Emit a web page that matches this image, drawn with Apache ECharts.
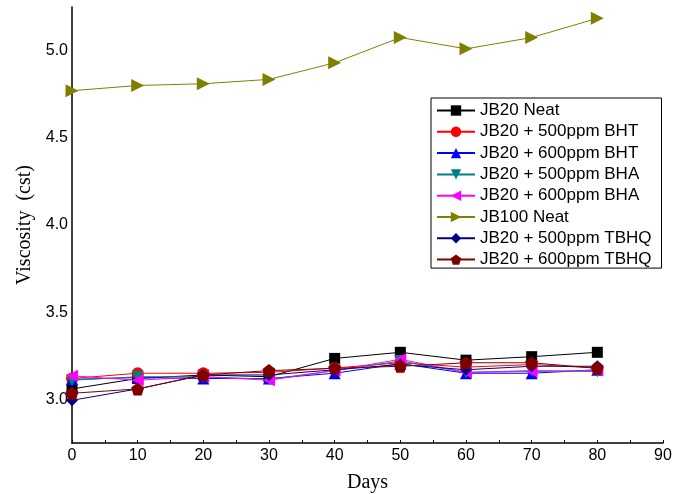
<!DOCTYPE html>
<html>
<head>
<meta charset="utf-8">
<script src="https://cdn.jsdelivr.net/npm/echarts@6/dist/echarts.min.js"></script>
<style>
  html, body { margin: 0; padding: 0; background: #fff; }
  #main { width: 689px; height: 494px; }
</style>
</head>
<body>
<div id="main"></div>
<script>
// days on x axis
const days = [0, 10, 20, 30, 40, 50, 60, 70, 80];

// viscosity readings (cst)
const jb20Neat   = [3.06, 3.12, 3.14, 3.13, 3.235, 3.27, 3.225, 3.245, 3.27];
const bht500     = [3.12, 3.15, 3.15, 3.155, 3.18, 3.21, 3.185, 3.20, 3.18];
const bht600     = [3.115, 3.125, 3.12, 3.12, 3.15, 3.205, 3.15, 3.15, 3.17];
const bha500     = [3.11, 3.13, 3.13, 3.115, 3.165, 3.22, 3.155, 3.165, 3.16];
const bha600     = [3.135, 3.11, 3.13, 3.11, 3.165, 3.23, 3.155, 3.16, 3.165];
const jb100Neat  = [4.77, 4.80, 4.81, 4.835, 4.93, 5.075, 5.01, 5.075, 5.185];
const tbhq500    = [2.995, 3.06, 3.14, 3.14, 3.17, 3.20, 3.17, 3.19, 3.19];
const tbhq600    = [3.035, 3.06, 3.14, 3.165, 3.178, 3.19, 3.21, 3.21, 3.178];

const seriesNames = [
  'JB20 Neat', 'JB20 + 500ppm BHT', 'JB20 + 600ppm BHT', 'JB20 + 500ppm BHA',
  'JB20 + 600ppm BHA', 'JB100 Neat', 'JB20 + 500ppm TBHQ', 'JB20 + 600ppm TBHQ'
];
const seriesData = [jb20Neat, bht500, bht600, bha500, bha600, jb100Neat, tbhq500, tbhq600];
const colors = ['#000000', '#ff0000', '#0000ff', '#008080', '#ff00ff', '#808000', '#000080', '#800000'];
const symbols = [
  'rect', 'circle', 'triangle',
  'path://M0,0 L10,0 L5,9 Z',          // down triangle
  'path://M9,0 L9,10 L0,5 Z',          // left triangle
  'path://M0,0 L9,5 L0,10 Z',          // right triangle
  'diamond',
  'path://M5,0 L10,3.8 L8.1,10 L1.9,10 L0,3.8 Z' // pentagon
];
const symbolSizes = [11, 12, 12, 12, 12, 13, 12, 13];

const chart = echarts.init(document.getElementById('main'));

const series = seriesNames.map((name, i) => ({
  name,
  type: 'line',
  data: days.map((d, j) => [d, seriesData[i][j]]),
  symbol: symbols[i],
  symbolSize: symbolSizes[i],
  showAllSymbol: true,
  lineStyle: { color: colors[i], width: 1 },
  itemStyle: { color: colors[i] },
  animation: false
}));

chart.setOption({
  animation: false,
  grid: { left: 72, right: 26, top: 7, bottom: 51, outerBoundsMode: 'none' },
  legend: {
    orient: 'vertical',
    left: 431,
    top: 98,
    padding: [4, 10, 0, 5],
    borderColor: '#000',
    borderWidth: 1,
    itemWidth: 38,
    itemHeight: 13,
    itemGap: 4.3,
    textStyle: { fontFamily: 'Liberation Sans, Arial', fontSize: 17, color: '#000', lineHeight: 17 },
    data: seriesNames
  },
  xAxis: {
    type: 'value',
    min: 0,
    max: 90,
    interval: 5,
    name: 'Days',
    nameLocation: 'middle',
    nameGap: 30,
    nameTextStyle: { fontFamily: 'Liberation Serif, Times New Roman', fontSize: 20, color: '#000' },
    axisLine: { lineStyle: { color: '#000', width: 1.5 } },
    axisTick: { inside: true, length: 3, lineStyle: { color: '#000' } },
    axisLabel: {
      margin: 5,
      fontFamily: 'Liberation Sans, Arial',
      fontSize: 16,
      color: '#000',
      formatter: v => (v % 10 === 0 ? String(v) : '')
    },
    splitLine: { show: false }
  },
  yAxis: {
    type: 'value',
    min: 2.75,
    max: 5.25,
    interval: 0.25,
    name: 'Viscosity  (cst)',
    nameLocation: 'middle',
    nameGap: 31,
    nameTextStyle: { fontFamily: 'Liberation Serif, Times New Roman', fontSize: 20, color: '#000' },
    axisLine: { show: true, lineStyle: { color: '#000', width: 1.5 } },
    axisTick: { show: false },
    axisLabel: {
      margin: 4,
      fontFamily: 'Liberation Sans, Arial',
      fontSize: 16,
      color: '#000',
      formatter: v => (Math.abs(v * 2 - Math.round(v * 2)) < 1e-6 ? v.toFixed(1) : '')
    },
    splitLine: { show: false }
  },
  series
});
</script>
</body>
</html>
